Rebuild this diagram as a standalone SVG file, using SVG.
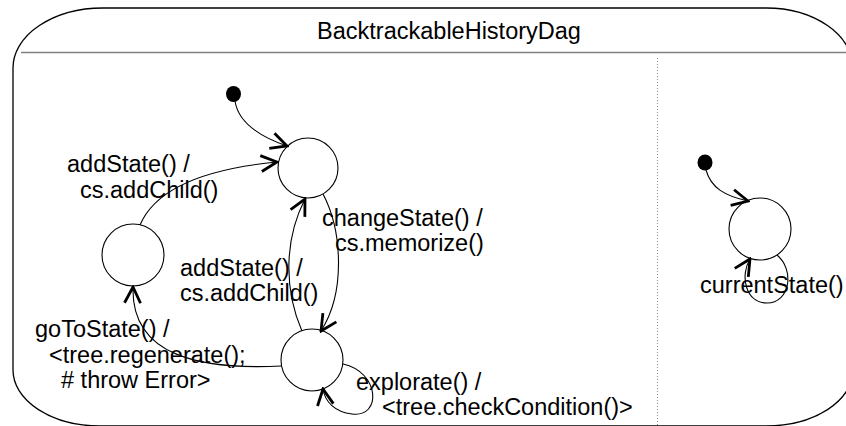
<svg xmlns="http://www.w3.org/2000/svg" width="846" height="426" viewBox="0 0 846 426">
<style>
  text { font-family: "Liberation Sans", Arial, sans-serif; font-size: 23.5px; fill: #000; }
  .state { fill: none; stroke: #000; stroke-width: 1.1; }
  .init { fill: #000; stroke: none; }
  .edge { fill: none; stroke: #000; stroke-width: 1.1; marker-end: url(#arr); }
</style>
<defs>
  <marker id="arr" viewBox="0 0 20 20" refX="18" refY="10" markerWidth="20" markerHeight="20" markerUnits="userSpaceOnUse" orient="auto">
    <path d="M2,2 L18,10 L2,18" fill="none" stroke="#000" stroke-width="2.8" stroke-linecap="butt" stroke-linejoin="miter"/>
  </marker>
</defs>
<rect width="846" height="426" fill="#fff"/>
<g id="container">
  <path d="M103,8 H766 A87,60 0 0 1 853,68 V370 A87,56 0 0 1 766,426 H100 A87,56 0 0 1 13,370 V68 A90,60 0 0 1 103,8 Z" fill="none" stroke="#000" stroke-width="1.3"/>
  <line x1="21" y1="52.5" x2="853" y2="52.5" stroke="#808080" stroke-width="1.5"/>
  <line x1="657.5" y1="58" x2="657.5" y2="426" stroke="#8a8a8a" stroke-width="1" stroke-dasharray="1 2"/>
  <text x="449" y="39" text-anchor="middle">BacktrackableHistoryDag</text>
</g>
<g id="init1"><ellipse class="init" cx="233.5" cy="94" rx="7.5" ry="8"/></g>
<g id="stateA"><circle class="state" cx="308" cy="168" r="30"/></g>
<g id="stateB"><circle class="state" cx="133" cy="255" r="31"/></g>
<g id="stateC"><circle class="state" cx="312" cy="360" r="31"/></g>
<g id="init2"><ellipse class="init" cx="705" cy="162.5" rx="7.5" ry="8"/></g>
<g id="stateD"><circle class="state" cx="760" cy="229" r="31"/></g>
<g id="connectors">
  <path class="edge" d="M235,101 C238,121 258,136 287,146"/>
  <path class="edge" d="M140,225 C157,185 215,168 277,162"/>
  <path class="edge" d="M323,194 C342,230 346,292 321,331"/>
  <path class="edge" d="M302,331 C284,290 284,240 305,199"/>
  <path class="edge" d="M281,366 C200,370 131,356 133,287"/>
  <path class="edge" d="M343,364 C380,372 382,418 352,414 C335,412 325,402 323,389"/>
  <path class="edge" d="M706,170 C711,188 725,196 748,201"/>
  <path class="edge" d="M777,255 C795,270 790,303 767,303 C745,303 740,275 750,259"/>
</g>
<g id="labels">
  <text x="67" y="172">addState() /</text>
  <text x="80" y="198">cs.addChild()</text>
  <text x="322" y="226">changeState() /</text>
  <text x="335" y="251">cs.memorize()</text>
  <text x="180" y="276">addState() /</text>
  <text x="180" y="301">cs.addChild()</text>
  <text x="35" y="337">goToState() /</text>
  <text x="49" y="363">&lt;tree.regenerate();</text>
  <text x="61" y="388"># throw Error&gt;</text>
  <text x="356" y="390">explorate() /</text>
  <text x="382" y="415">&lt;tree.checkCondition()&gt;</text>
  <text x="700" y="293">currentState()</text>
</g>
</svg>
